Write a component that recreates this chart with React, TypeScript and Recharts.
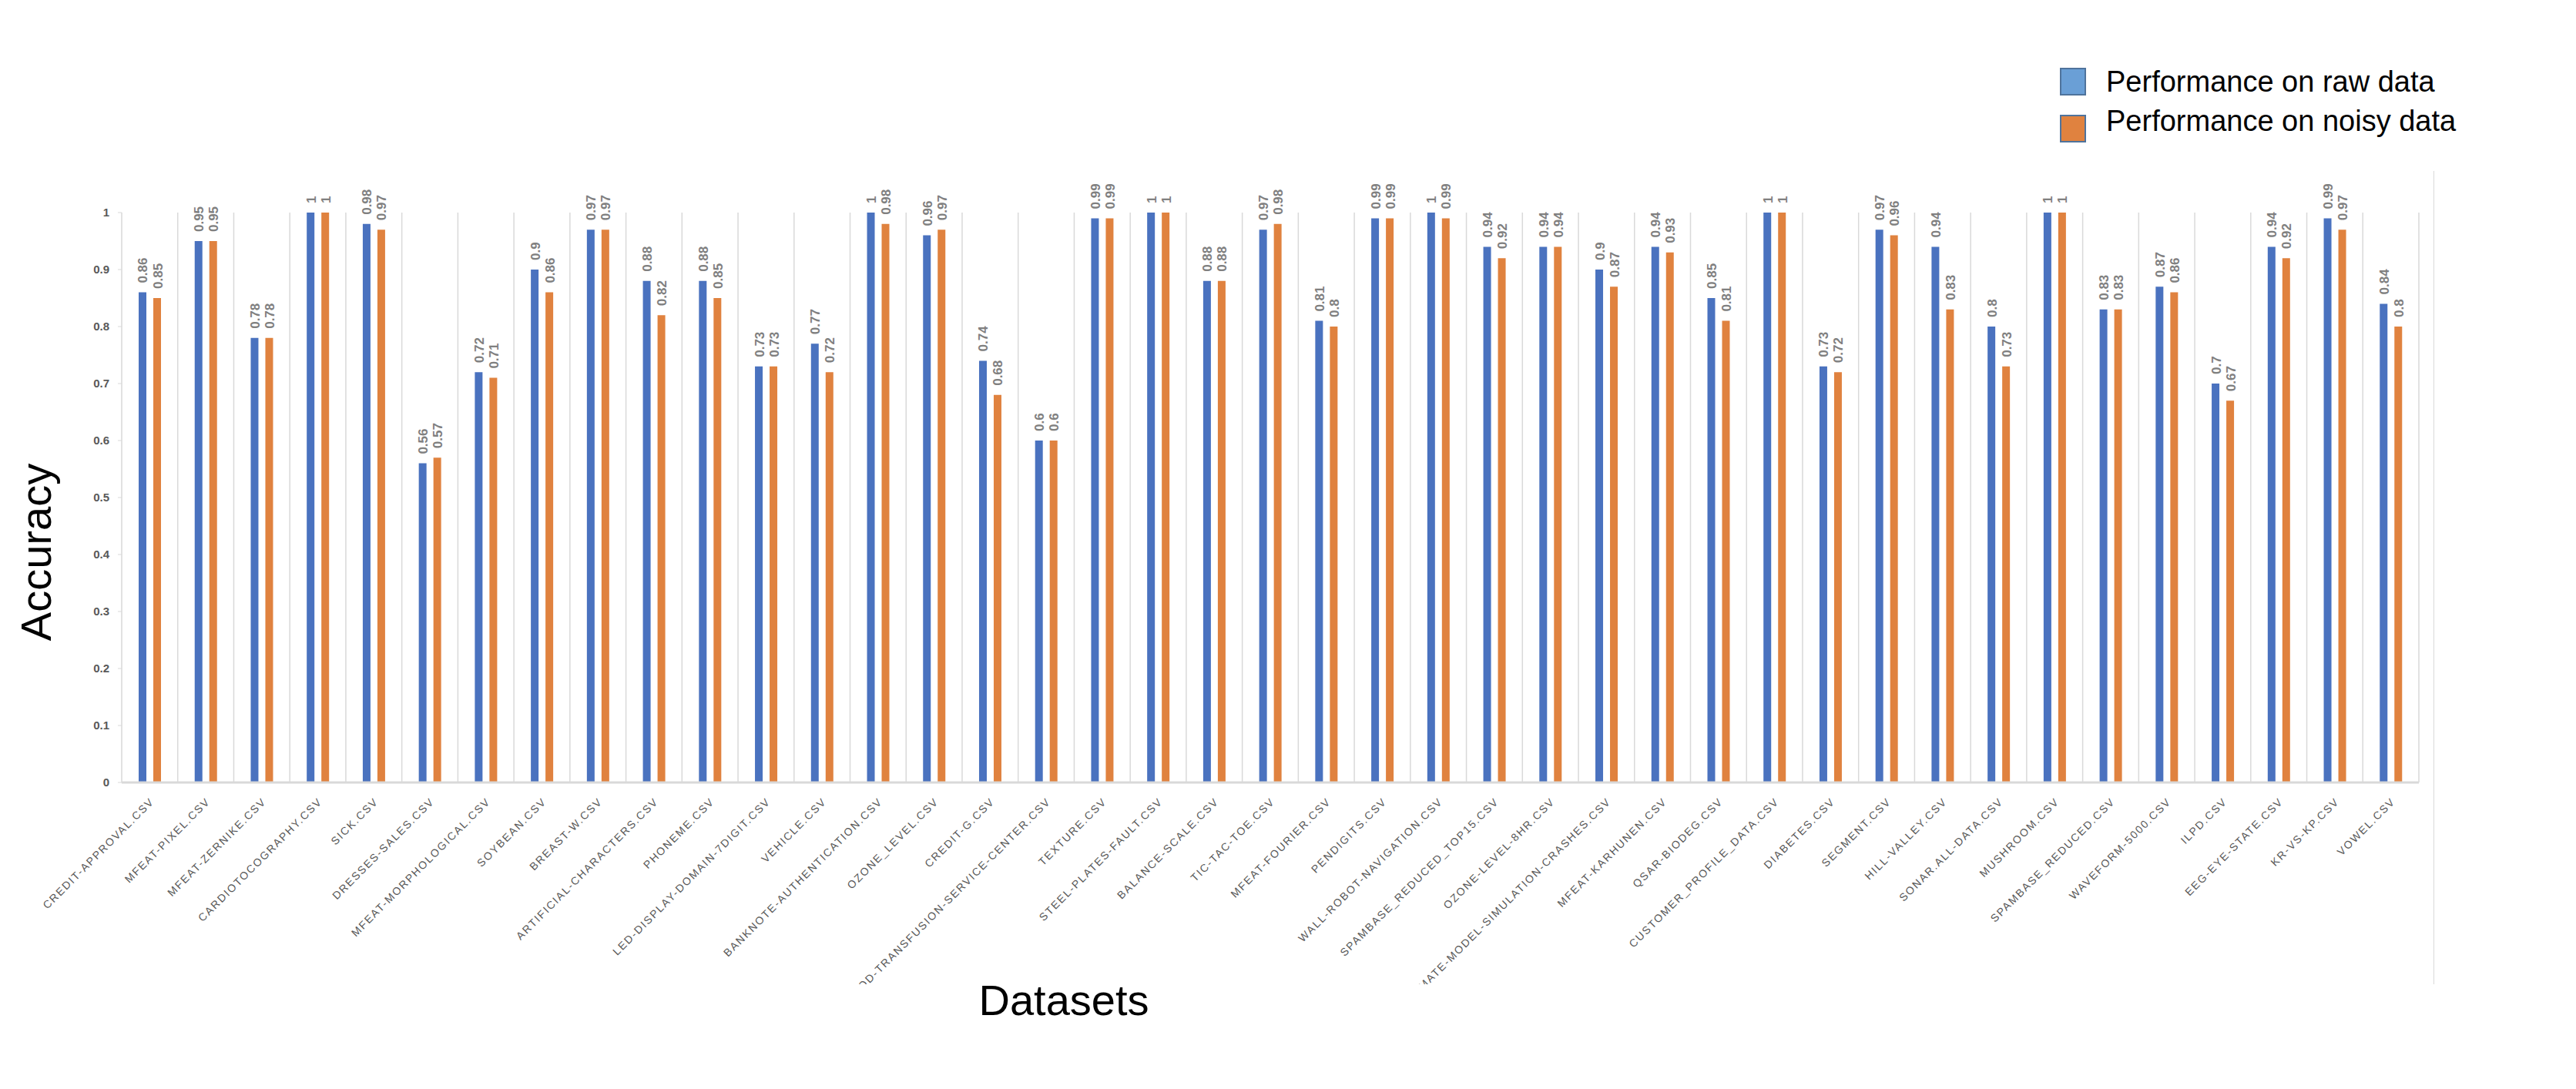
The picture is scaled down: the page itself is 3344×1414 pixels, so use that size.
import React from "react";
import {
  BarChart,
  Bar,
  XAxis,
  YAxis,
  CartesianGrid,
  LabelList,
} from "recharts";

const categories: string[] = [
  "CREDIT-APPROVAL.CSV", "MFEAT-PIXEL.CSV", "MFEAT-ZERNIKE.CSV", "CARDIOTOCOGRAPHY.CSV",
  "SICK.CSV", "DRESSES-SALES.CSV", "MFEAT-MORPHOLOGICAL.CSV", "SOYBEAN.CSV",
  "BREAST-W.CSV", "ARTIFICIAL-CHARACTERS.CSV", "PHONEME.CSV", "LED-DISPLAY-DOMAIN-7DIGIT.CSV",
  "VEHICLE.CSV", "BANKNOTE-AUTHENTICATION.CSV", "OZONE_LEVEL.CSV", "CREDIT-G.CSV",
  "BLOOD-TRANSFUSION-SERVICE-CENTER.CSV", "TEXTURE.CSV", "STEEL-PLATES-FAULT.CSV", "BALANCE-SCALE.CSV",
  "TIC-TAC-TOE.CSV", "MFEAT-FOURIER.CSV", "PENDIGITS.CSV", "WALL-ROBOT-NAVIGATION.CSV",
  "SPAMBASE_REDUCED_TOP15.CSV", "OZONE-LEVEL-8HR.CSV", "CLIMATE-MODEL-SIMULATION-CRASHES.CSV", "MFEAT-KARHUNEN.CSV",
  "QSAR-BIODEG.CSV", "CUSTOMER_PROFILE_DATA.CSV", "DIABETES.CSV", "SEGMENT.CSV",
  "HILL-VALLEY.CSV", "SONAR.ALL-DATA.CSV", "MUSHROOM.CSV", "SPAMBASE_REDUCED.CSV",
  "WAVEFORM-5000.CSV", "ILPD.CSV", "EEG-EYE-STATE.CSV", "KR-VS-KP.CSV", "VOWEL.CSV",
];

const rawScores: number[] = [
  0.86, 0.95, 0.78, 1, 0.98, 0.56, 0.72, 0.9, 0.97, 0.88, 0.88, 0.73, 0.77, 1,
  0.96, 0.74, 0.6, 0.99, 1, 0.88, 0.97, 0.81, 0.99, 1, 0.94, 0.94, 0.9, 0.94,
  0.85, 1, 0.73, 0.97, 0.94, 0.8, 1, 0.83, 0.87, 0.7, 0.94, 0.99, 0.84,
];

const noisyScores: number[] = [
  0.85, 0.95, 0.78, 1, 0.97, 0.57, 0.71, 0.86, 0.97, 0.82, 0.85, 0.73, 0.72, 0.98,
  0.97, 0.68, 0.6, 0.99, 1, 0.88, 0.98, 0.8, 0.99, 0.99, 0.92, 0.94, 0.87, 0.93,
  0.81, 1, 0.72, 0.96, 0.83, 0.73, 1, 0.83, 0.86, 0.67, 0.92, 0.97, 0.8,
];

const seriesNames: string[] = ["Performance on raw data", "Performance on noisy data"];
const yTicks: number[] = [0, 0.1, 0.2, 0.3, 0.4, 0.5, 0.6, 0.7, 0.8, 0.9, 1];

const BLUE = "#4A72BF";
const ORANGE = "#E0823F";
const GRID = "#D9D9D9";

const data = categories.map((name, i) => ({
  name,
  raw: rawScores[i],
  noisy: noisyScores[i],
}));

const renderValueLabel = (props: any) => {
  const { x, y, width, value } = props;
  const cx = x + width / 2 + 1;
  const cy = y - 12;
  return (
    <text
      x={cx}
      y={cy}
      transform={`rotate(-90 ${cx} ${cy})`}
      textAnchor="start"
      dominantBaseline="central"
      fontFamily="Liberation Sans, Arial, sans-serif"
      fontWeight="bold"
      fontSize={17}
      fill="#808080"
    >
      {value}
    </text>
  );
};

const XTick = (props: any) => {
  const { x, y, payload } = props;
  const tx = x + 3;
  const ty = y + 20;
  return (
    <text
      x={tx}
      y={ty}
      transform={`rotate(-45 ${tx} ${ty})`}
      textAnchor="end"
      dominantBaseline="central"
      fontFamily="Liberation Sans, Arial, sans-serif"
      fontSize={14}
      letterSpacing={1.8}
      fill="#595959"
    >
      {payload.value}
    </text>
  );
};

const App: React.FC = () => {
  const n = categories.length;

  return (
    <div
      style={{
        position: "absolute",
        left: 0,
        top: 0,
        width: 3344,
        height: 1414,
        background: "#fff",
        fontFamily: "Liberation Sans, Arial, sans-serif",
        overflow: "hidden",
      }}
    >
      <BarChart
        width={3344}
        height={1278}
        data={data}
        margin={{ top: 276, right: 204, bottom: 0, left: 0 }}
        barSize={10}
        barGap={9}
        style={{ position: "absolute", left: 0, top: 0 }}
      >
        <CartesianGrid
          horizontal={false}
          stroke={GRID}
          strokeWidth={1.5}
          verticalCoordinatesGenerator={({ offset }: any) =>
            Array.from({ length: n + 1 }, (_, i) => offset.left + (i * offset.width) / n)
          }
        />
        <XAxis
          dataKey="name"
          interval={0}
          height={262}
          tickLine={false}
          tickSize={0}
          axisLine={{ stroke: GRID, strokeWidth: 3 }}
          tick={<XTick />}
        />
        <YAxis
          width={158}
          domain={[0, 1]}
          ticks={yTicks}
          axisLine={false}
          tickLine={{ stroke: GRID }}
          tickSize={5}
          tickMargin={11}
          tick={{
            fill: "#595959",
            fontSize: 15,
            fontWeight: "bold",
            fontFamily: "Liberation Sans, Arial, sans-serif",
          }}
          tickFormatter={(v: number) => String(v)}
        />
        <Bar dataKey="raw" name={seriesNames[0]} fill={BLUE} isAnimationActive={false}>
          <LabelList dataKey="raw" content={renderValueLabel} />
        </Bar>
        <Bar dataKey="noisy" name={seriesNames[1]} fill={ORANGE} isAnimationActive={false}>
          <LabelList dataKey="noisy" content={renderValueLabel} />
        </Bar>
      </BarChart>

      {/* right edge of the chart frame */}
      <div
        style={{
          position: "absolute",
          left: 3159,
          top: 222,
          width: 0,
          height: 1056,
          borderLeft: `1.5px solid ${GRID}`,
        }}
      />

      {/* legend */}
      {seriesNames.map((label, i) => (
        <div key={label}>
          <div
            style={{
              position: "absolute",
              left: 2674,
              top: i === 0 ? 88 : 149,
              width: 30,
              height: 32,
              background: i === 0 ? "#6A9FD6" : ORANGE,
              border: "2.5px solid #4F739C",
            }}
          />
          <div
            style={{
              position: "absolute",
              left: 2734,
              top: i === 0 ? 82 : 133,
              fontSize: 38,
              lineHeight: "48px",
              color: "#000",
              whiteSpace: "nowrap",
            }}
          >
            {label}
          </div>
        </div>
      ))}

      {/* axis titles */}
      <svg
        width={3344}
        height={1414}
        style={{ position: "absolute", left: 0, top: 0, pointerEvents: "none" }}
      >
        <text
          x={46}
          y={717}
          transform="rotate(-90 46 717)"
          textAnchor="middle"
          dominantBaseline="central"
          fontSize={56}
          fontFamily="Liberation Sans, Arial, sans-serif"
          fill="#000"
        >
          Accuracy
        </text>
        <text
          x={1381}
          y={1318}
          textAnchor="middle"
          fontSize={56}
          fontFamily="Liberation Sans, Arial, sans-serif"
          fill="#000"
        >
          Datasets
        </text>
      </svg>
    </div>
  );
};

export default App;
